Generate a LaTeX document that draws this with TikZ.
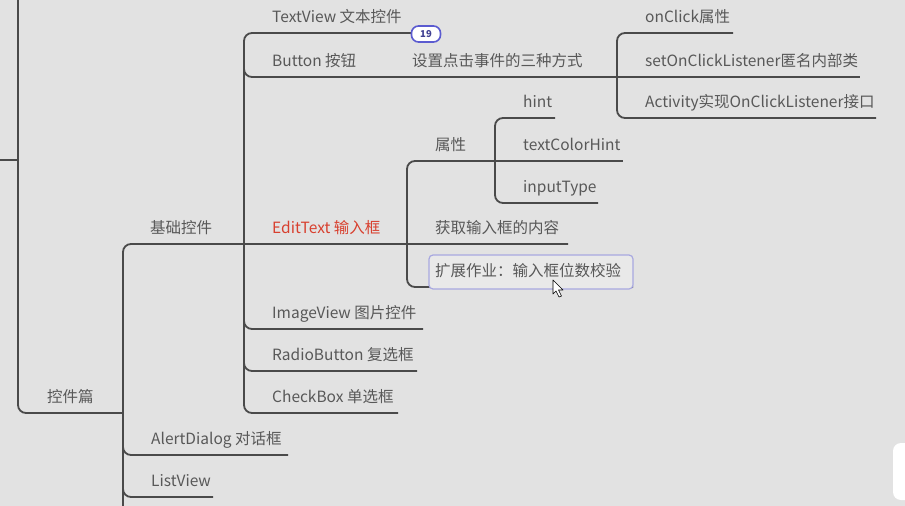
\documentclass[tikz,border=0pt]{standalone}
\usepackage{fontspec}
\setmainfont{Noto Sans CJK SC}
\definecolor{bg}{HTML}{E2E2E2}
\definecolor{ln}{HTML}{4A4A4A}
\definecolor{tx}{HTML}{585858}
\definecolor{redt}{HTML}{D8402F}
\definecolor{badgec}{HTML}{5B5BD0}
\definecolor{lav}{HTML}{A8A8E0}
\begin{document}
\begin{tikzpicture}[x=1pt,y=-1pt,
  lbl/.style={anchor=base west, inner sep=0pt, text=tx, font=\fontsize{15.5}{18}\selectfont},
  br/.style={draw=ln, line width=1.8pt, rounded corners=8pt}]
\fill[bg] (0,0) rectangle (905,506);
\useasboundingbox (0,0) rectangle (905,506);
% --- branch lines ---
\draw[br] (0,160) -- (18,160);
\draw[br] (18,-2) -- (18,413) -- (123,413);
\draw[br] (123,510) -- (123,244) -- (568,244);
\draw[br] (123,430) -- (123,455) -- (288,455);
\draw[br] (123,470) -- (123,497) -- (213,497);
\draw[br] (412,33) -- (244,33) -- (244,413) -- (398,413);
\draw[br] (244,55) -- (244,77) -- (617,77);
\draw[br] (244,305) -- (244,329) -- (423,329);
\draw[br] (244,350) -- (244,371) -- (417,371);
\draw[br] (733,33) -- (617,33) -- (617,118) -- (876,118);
\draw[br] (617,77) -- (860,77);
\draw[br] (495,161) -- (407,161) -- (407,287) -- (633,287);
\draw[br] (555,118) -- (495,118) -- (495,203) -- (598,203);
\draw[br] (495,161) -- (623,161);
% --- highlighted box ---
\draw[lav, fill=bg!75!white, line width=1.2pt, rounded corners=4pt] (429,255) rectangle (633,289);
% --- labels ---
\node[lbl] (tv) at (272,23) {TextView 文本控件};
\node[lbl] (btn) at (272,66) {Button 按钮};
\node[lbl] (set) at (412,66) {设置点击事件的三种方式};
\node[lbl] (onc) at (645,23) {onClick属性};
\node[lbl] (sol) at (645,66) {setOnClickListener匿名内部类};
\node[lbl] (act) at (645,107) {Activity实现OnClickListener接口};
\node[lbl] (hint) at (523,107) {hint};
\node[lbl] (attr) at (435,150) {属性};
\node[lbl] (tch) at (523,150) {textColorHint};
\node[lbl] (it) at (523,192) {inputType};
\node[lbl] (basic) at (150,233) {基础控件};
\node[lbl, text=redt] (et) at (272,233) {EditText 输入框};
\node[lbl] (get) at (435,233) {获取输入框的内容};
\node[lbl] (ext) at (435,276) {扩展作业：输入框位数校验};
\node[lbl] (iv) at (272,318) {ImageView 图片控件};
\node[lbl] (rb) at (272,360) {RadioButton 复选框};
\node[lbl] (cb) at (272,402) {CheckBox 单选框};
\node[lbl] (kj) at (47,402) {控件篇};
\node[lbl] (ad) at (151,444) {AlertDialog 对话框};
\node[lbl] (lv) at (151,486) {ListView};
% --- badge ---
\node[draw=badgec, fill=white, line width=1.6pt, rounded corners=7pt,
      minimum width=29pt, minimum height=16pt, inner sep=0pt,
      text=badgec!70!black, font=\fontsize{9.5}{9.5}\bfseries\selectfont] (badge) at (426,34) {19};
% --- cursor ---
\draw[black, fill=white, line width=0.6pt, line join=round]
  (553,280) -- (553,294) -- (556,291) -- (559,297) -- (561.5,296) -- (558.5,290) -- (563,290) -- cycle;
% --- white UI panel at right edge ---
\fill[white, rounded corners=8pt] (893,443) rectangle (915,500);
\end{tikzpicture}
\end{document}
